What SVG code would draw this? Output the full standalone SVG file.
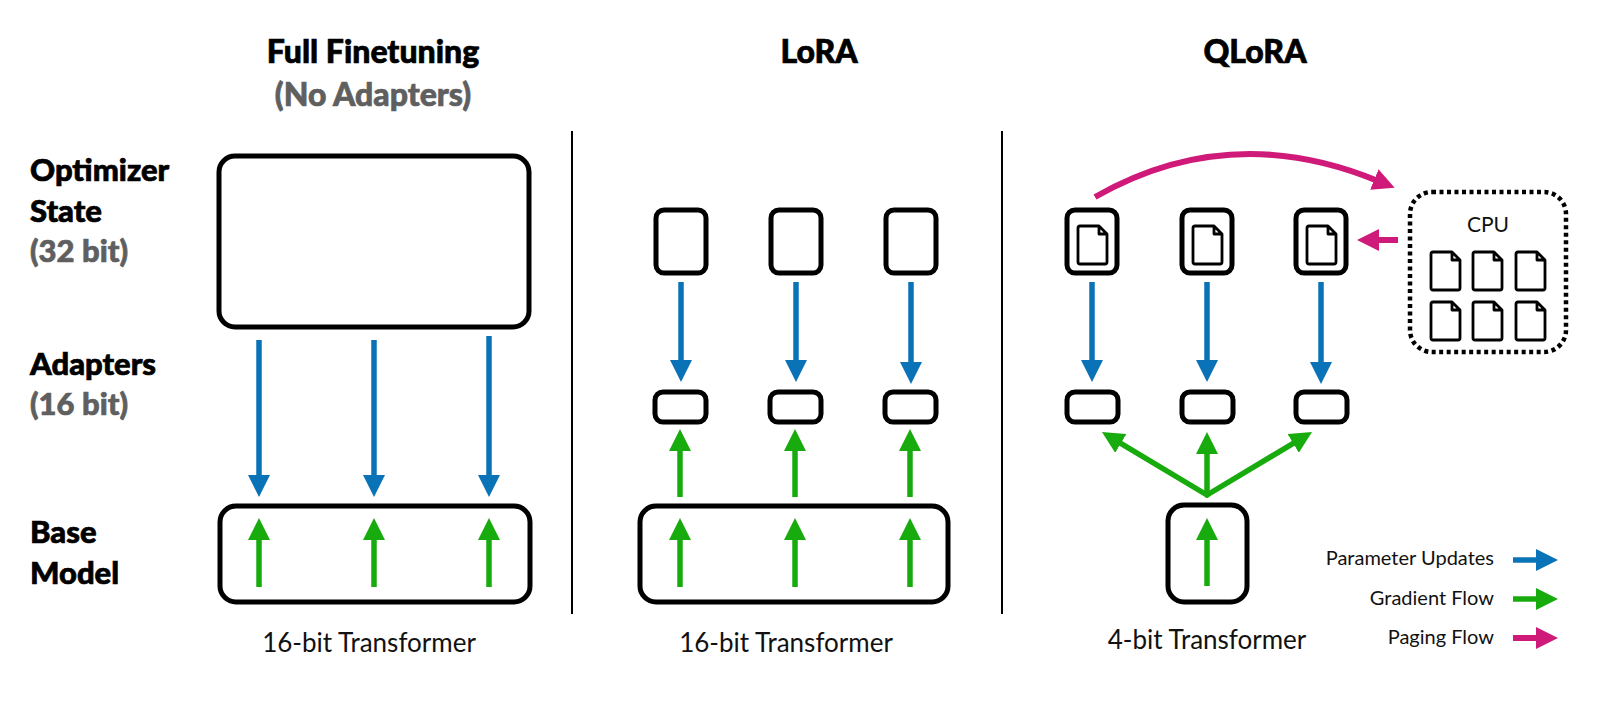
<svg xmlns="http://www.w3.org/2000/svg" width="1605" height="704" viewBox="0 0 1605 704">
<style>
.h{font-family:"Lato Black",Lato,"Liberation Sans",sans-serif;font-weight:900;font-size:31px;fill:#000;stroke:#000;stroke-width:0.7}
.tt{font-size:32px}
.gr{fill:#5f5f5f;stroke:#5f5f5f}
.r{font-family:Lato,"Liberation Sans",sans-serif;font-weight:400;font-size:26px;fill:#111}
.lg{font-family:Lato,"Liberation Sans",sans-serif;font-weight:400;font-size:20px;fill:#111}
.cpu{font-family:Lato,"Liberation Sans",sans-serif;font-weight:400;font-size:21px;fill:#111}
.box{fill:#fff;stroke:#000;stroke-width:5}
.doc{fill:none;stroke:#000;stroke-width:2.8;stroke-linejoin:round}
.b{stroke:#0a72b7;stroke-width:5.5;fill:none}
.g{stroke:#18ab0e;stroke-width:5.5;fill:none}
.p{stroke:#cf1a79;stroke-width:6;fill:none}
.div{stroke:#000;stroke-width:2}
</style>
<defs>
<marker id="ab" viewBox="0 0 22 22" markerWidth="22" markerHeight="22" markerUnits="userSpaceOnUse" refX="4" refY="11" orient="auto"><path d="M0,0 L22,11 L0,22 z" fill="#0a72b7"/></marker>
<marker id="ag" viewBox="0 0 22 22" markerWidth="22" markerHeight="22" markerUnits="userSpaceOnUse" refX="4" refY="11" orient="auto"><path d="M0,0 L22,11 L0,22 z" fill="#18ab0e"/></marker>
<marker id="ap" viewBox="0 0 22 22" markerWidth="22" markerHeight="22" markerUnits="userSpaceOnUse" refX="4" refY="11" orient="auto"><path d="M0,0 L22,11 L0,22 z" fill="#cf1a79"/></marker>
<path id="docshape" d="M0,2 Q0,0 2,0 L21,0 L29,8 L29,36 Q29,38 27,38 L2,38 Q0,38 0,36 Z M21,0 L21,8 L29,8"/>
</defs>
<rect width="1605" height="704" fill="#fff"/>

<g id="titles">
<text class="h tt" x="373" y="63" text-anchor="middle">Full Finetuning</text>
<text class="h tt gr" x="373" y="106" text-anchor="middle">(No Adapters)</text>
<text class="h tt" x="819" y="63" text-anchor="middle">LoRA</text>
<text class="h tt" x="1255" y="63" text-anchor="middle">QLoRA</text>
</g>
<g id="row-labels">
<text class="h" x="30" y="181">Optimizer</text>
<text class="h" x="30" y="222">State</text>
<text class="h gr" x="30" y="262">(32 bit)</text>
<text class="h" x="30" y="375">Adapters</text>
<text class="h gr" x="30" y="415">(16 bit)</text>
<text class="h" x="30" y="543">Base</text>
<text class="h" x="30" y="584">Model</text>
</g>
<g id="dividers">
<line class="div" x1="572" y1="131" x2="572" y2="614"/>
<line class="div" x1="1002" y1="131" x2="1002" y2="614"/>
</g>

<g id="ft-optimizer"><rect class="box" x="219" y="156" width="310" height="171" rx="16"/></g>
<g id="ft-base"><rect class="box" x="220" y="506" width="310" height="96" rx="16"/></g>

<g id="lora-opt-1"><rect class="box" x="656" y="210" width="50" height="63" rx="8"/></g>
<g id="lora-opt-2"><rect class="box" x="771" y="210" width="50" height="63" rx="8"/></g>
<g id="lora-opt-3"><rect class="box" x="886" y="210" width="50" height="63" rx="8"/></g>
<g id="lora-ad-1"><rect class="box" x="655" y="392" width="51" height="30" rx="8"/></g>
<g id="lora-ad-2"><rect class="box" x="770" y="392" width="51" height="30" rx="8"/></g>
<g id="lora-ad-3"><rect class="box" x="885" y="392" width="51" height="30" rx="8"/></g>
<g id="lora-base"><rect class="box" x="640" y="506" width="308" height="96" rx="16"/></g>

<g id="qlora-opt-1"><rect class="box" x="1067" y="210" width="50" height="63" rx="8"/><use href="#docshape" class="doc" x="1078" y="226"/></g>
<g id="qlora-opt-2"><rect class="box" x="1182" y="210" width="50" height="63" rx="8"/><use href="#docshape" class="doc" x="1193" y="226"/></g>
<g id="qlora-opt-3"><rect class="box" x="1296" y="210" width="50" height="63" rx="8"/><use href="#docshape" class="doc" x="1307" y="226"/></g>
<g id="qlora-ad-1"><rect class="box" x="1067" y="392" width="51" height="30" rx="8"/></g>
<g id="qlora-ad-2"><rect class="box" x="1182" y="392" width="51" height="30" rx="8"/></g>
<g id="qlora-ad-3"><rect class="box" x="1296" y="392" width="51" height="30" rx="8"/></g>
<g id="qlora-base"><rect class="box" x="1168" y="505" width="79" height="97" rx="16"/></g>

<g id="cpu">
<rect x="1410" y="192" width="156" height="160" rx="22" fill="#fff" stroke="#000" stroke-width="4.5" stroke-dasharray="4 3.5"/>
<text class="cpu" x="1488" y="232" text-anchor="middle">CPU</text>
<use href="#docshape" class="doc" x="1431" y="252"/>
<use href="#docshape" class="doc" x="1473" y="252"/>
<use href="#docshape" class="doc" x="1516" y="252"/>
<use href="#docshape" class="doc" x="1431" y="302"/>
<use href="#docshape" class="doc" x="1473" y="302"/>
<use href="#docshape" class="doc" x="1516" y="302"/>
</g>

<g id="connectors">
<line class="b" x1="259" y1="340" x2="259" y2="479" marker-end="url(#ab)"/>
<line class="b" x1="374" y1="340" x2="374" y2="479" marker-end="url(#ab)"/>
<line class="b" x1="489" y1="336" x2="489" y2="479" marker-end="url(#ab)"/>
<line class="g" x1="259" y1="587" x2="259" y2="536" marker-end="url(#ag)"/>
<line class="g" x1="374" y1="587" x2="374" y2="536" marker-end="url(#ag)"/>
<line class="g" x1="489" y1="587" x2="489" y2="536" marker-end="url(#ag)"/>

<line class="b" x1="681" y1="282" x2="681" y2="364" marker-end="url(#ab)"/>
<line class="b" x1="796" y1="282" x2="796" y2="364" marker-end="url(#ab)"/>
<line class="b" x1="911" y1="282" x2="911" y2="366" marker-end="url(#ab)"/>
<line class="g" x1="680" y1="497" x2="680" y2="447" marker-end="url(#ag)"/>
<line class="g" x1="795" y1="497" x2="795" y2="447" marker-end="url(#ag)"/>
<line class="g" x1="910" y1="497" x2="910" y2="447" marker-end="url(#ag)"/>
<line class="g" x1="680" y1="587" x2="680" y2="536" marker-end="url(#ag)"/>
<line class="g" x1="795" y1="587" x2="795" y2="536" marker-end="url(#ag)"/>
<line class="g" x1="910" y1="587" x2="910" y2="536" marker-end="url(#ag)"/>

<line class="b" x1="1092" y1="282" x2="1092" y2="364" marker-end="url(#ab)"/>
<line class="b" x1="1207" y1="282" x2="1207" y2="364" marker-end="url(#ab)"/>
<line class="b" x1="1321" y1="282" x2="1321" y2="366" marker-end="url(#ab)"/>
<line class="g" x1="1207" y1="495" x2="1117.4" y2="441.3" stroke-linecap="round" marker-end="url(#ag)"/>
<line class="g" x1="1207" y1="495" x2="1296.6" y2="441.3" stroke-linecap="round" marker-end="url(#ag)"/>
<line class="g" x1="1207" y1="495" x2="1207" y2="450" marker-end="url(#ag)"/>
<line class="g" x1="1207" y1="586" x2="1207" y2="536" marker-end="url(#ag)"/>

<path class="p" d="M1095,197 Q1230,120 1378,181" marker-end="url(#ap)"/>
<line class="p" x1="1398" y1="240" x2="1375" y2="240" marker-end="url(#ap)"/>
</g>

<g id="legend">
<text class="lg" x="1494" y="565" text-anchor="end">Parameter Updates</text>
<line class="b" x1="1513" y1="560" x2="1540" y2="560" marker-end="url(#ab)"/>
<text class="lg" x="1494" y="605" text-anchor="end">Gradient Flow</text>
<line class="g" x1="1513" y1="599" x2="1540" y2="599" marker-end="url(#ag)"/>
<text class="lg" x="1494" y="644" text-anchor="end">Paging Flow</text>
<line class="p" x1="1513" y1="638" x2="1540" y2="638" marker-end="url(#ap)"/>
</g>

<g id="bottom-labels">
<text class="r" x="369" y="652" text-anchor="middle">16-bit Transformer</text>
<text class="r" x="786" y="652" text-anchor="middle">16-bit Transformer</text>
<text class="r" x="1207" y="649" text-anchor="middle">4-bit Transformer</text>
</g>
</svg>
